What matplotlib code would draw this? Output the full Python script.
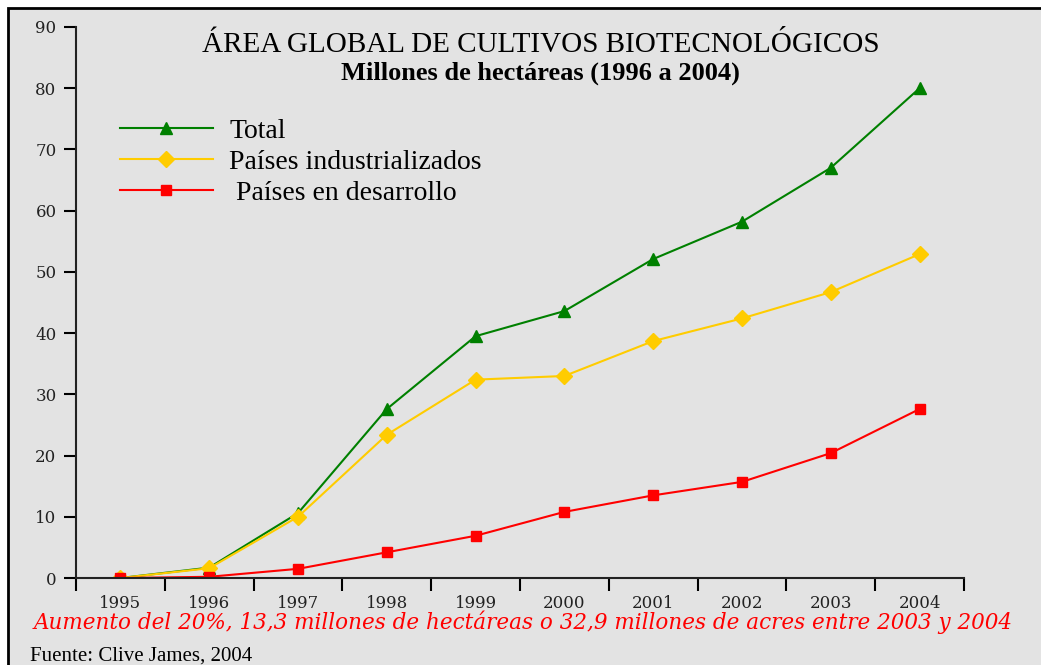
import matplotlib.pyplot as plt
from matplotlib.patches import Rectangle

years = ['1995', '1996', '1997', '1998', '1999', '2000', '2001', '2002', '2003', '2004']
total = [0, 1.7, 10.6, 27.6, 39.5, 43.6, 52.1, 58.2, 67.0, 80.0]
industrializados = [0, 1.6, 10.0, 23.4, 32.4, 33.0, 38.7, 42.4, 46.7, 52.9]
desarrollo = [0, 0.2, 1.5, 4.2, 6.9, 10.8, 13.5, 15.7, 20.4, 27.6]

plt.rcParams['font.family'] = ['Liberation Serif', 'DejaVu Serif']
bg = '#e3e3e3'

fig = plt.figure(figsize=(10.41, 6.65), dpi=100)
fig.patch.set_facecolor('white')
fig.patches.append(Rectangle((8 / 1041, -0.1), 1.2, (665 - 8) / 665 + 0.1,
                             transform=fig.transFigure, facecolor=bg,
                             edgecolor='black', linewidth=2, zorder=-10))

ax = fig.add_axes([0.073, 0.1308, 0.853, 0.8286])
ax.set_facecolor('none')

x = range(len(years))
ax.plot(x, total, color='#008000', marker='^', markersize=8, linewidth=1.5,
        label='Total')
ax.plot(x, industrializados, color='#ffcc00', marker='D', markersize=8,
        linewidth=1.5, label='Países industrializados')
ax.plot(x, desarrollo, color='#ff0000', marker='s', markersize=7,
        linewidth=1.5, label=' Países en desarrollo')

ax.set_xlim(-0.5, 9.5)
ax.set_ylim(0, 90)
ax.set_yticks(range(0, 91, 10))
ax.set_xticks([i - 0.5 for i in range(11)])
ax.set_xticklabels([])
ax.set_xticks(list(x), minor=True)
ax.set_xticklabels(years, minor=True, family='DejaVu Serif')
ax.set_yticklabels([str(v) for v in range(0, 91, 10)], family='DejaVu Serif')
ax.tick_params(axis='x', which='minor', length=0, pad=12, labelsize=12, colors='#222222')
ax.tick_params(axis='x', which='major', length=9, width=1.5, direction='out')
ax.tick_params(axis='y', length=9, width=1.5, direction='out', pad=5,
               labelsize=12, labelcolor='#222222')

for side in ['top', 'right']:
    ax.spines[side].set_visible(False)
for side in ['left', 'bottom']:
    ax.spines[side].set_linewidth(1.5)
    ax.spines[side].set_color('#222222')

fig.text(0.519, 0.932, 'ÁREA GLOBAL DE CULTIVOS BIOTECNOLÓGICOS', ha='center',
         va='center', fontsize=21)
fig.text(0.519, 0.890, 'Millones de hectáreas (1996 a 2004)', ha='center',
         va='center', fontsize=19, fontweight='bold')

ax.legend(loc='upper left', bbox_to_anchor=(0.021, 0.88), frameon=False,
          fontsize=20, handlelength=3.35, handletextpad=0.6, labelspacing=0.2)

fig.text(0.032, 0.064, 'Aumento del 20%, 13,3 millones de hectáreas o 32,9 millones '
         'de acres entre 2003 y 2004', color='#ff0000', style='italic',
         fontsize=15.5, va='center', ha='left', family='DejaVu Serif')
fig.text(0.029, 0.013, 'Fuente: Clive James, 2004', fontsize=15, va='center', ha='left')

fig.savefig('out.png', dpi=100, facecolor=fig.get_facecolor())
